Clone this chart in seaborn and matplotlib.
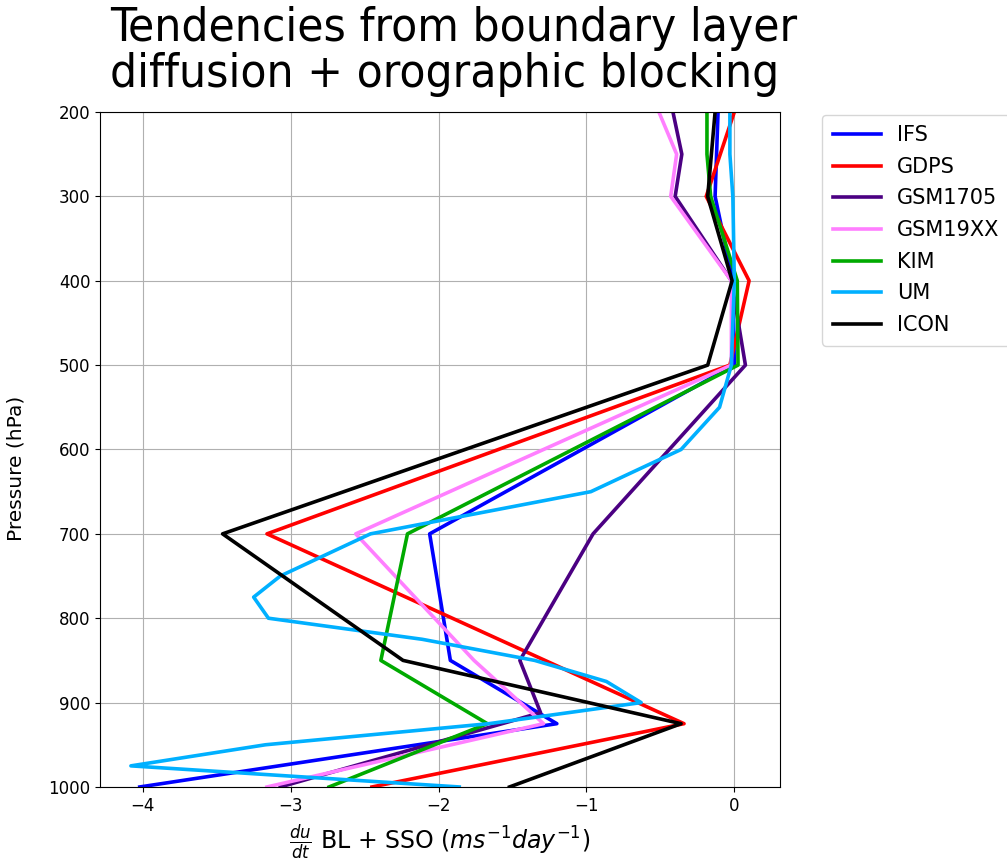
import numpy as np
import pandas as pd
import matplotlib
matplotlib.use("Agg")
import matplotlib.pyplot as plt
import seaborn as sns

# Zonal-wind tendency profiles (m s-1 day-1) from boundary-layer diffusion + SSO
models = ["IFS", "GDPS", "GSM1705", "GSM19XX", "KIM", "UM", "ICON"]

p_ifs = [200, 250, 300, 400, 500, 700, 850, 925, 1000]
u_ifs = [-0.11, -0.12, -0.13, -0.01, 0.0, -2.06, -1.92, -1.20, -4.02]

p_gdps = [200, 300, 400, 500, 700, 925, 1000]
u_gdps = [0.0, -0.19, 0.10, -0.03, -3.16, -0.34, -2.45]

p_gsm1705 = [200, 250, 300, 400, 500, 700, 850, 912, 1000]
u_gsm1705 = [-0.415, -0.355, -0.40, -0.02, 0.075, -0.955, -1.45, -1.31, -3.07]

p_gsm19xx = [200, 250, 300, 400, 500, 700, 850, 925, 1000]
u_gsm19xx = [-0.51, -0.39, -0.43, -0.02, -0.02, -2.56, -1.76, -1.29, -3.16]

p_kim = [200, 250, 300, 400, 500, 700, 850, 925, 1000]
u_kim = [-0.185, -0.185, -0.16, 0.02, 0.025, -2.21, -2.39, -1.67, -2.74]

p_um = [200, 250, 300, 400, 500, 550, 600, 650, 700, 750, 775, 800,
        825, 850, 875, 900, 925, 950, 975, 1000]
u_um = [-0.03, -0.03, -0.01, 0.0, -0.02, -0.10, -0.36, -0.97, -2.46, -3.07,
        -3.25, -3.15, -2.11, -1.35, -0.865, -0.63, -1.66, -3.17, -4.08, -1.86]

p_icon = [200, 250, 300, 400, 500, 700, 850, 925, 1000]
u_icon = [-0.13, -0.155, -0.18, -0.015, -0.18, -3.46, -2.24, -0.36, -1.52]

colors = ["#0000ff", "#ff0000", "#4b0082", "#ff7fff", "#00aa00", "#00b0ff", "#000000"]

profiles = {
    "IFS": (p_ifs, u_ifs),
    "GDPS": (p_gdps, u_gdps),
    "GSM1705": (p_gsm1705, u_gsm1705),
    "GSM19XX": (p_gsm19xx, u_gsm19xx),
    "KIM": (p_kim, u_kim),
    "UM": (p_um, u_um),
    "ICON": (p_icon, u_icon),
}

frames = []
for name in models:
    p, u = profiles[name]
    frames.append(pd.DataFrame({"model": name, "pressure": p, "dudt": u}))
df = pd.concat(frames, ignore_index=True)

fig = plt.figure(figsize=(10.07, 8.61), dpi=100)
ax = fig.add_axes([0.0993, 0.0860, 0.6753, 0.7839])

sns.lineplot(data=df, x="dudt", y="pressure", hue="model", hue_order=models,
             palette=colors, sort=False, orient="y", estimator=None,
             linewidth=2.6, ax=ax)

ax.set_ylim(1000, 200)
ax.set_yticks(np.arange(200, 1001, 100))
ax.grid(True, color="#b0b0b0", linewidth=0.8)
ax.set_axisbelow(True)
ax.tick_params(labelsize=12)
ax.set_ylabel("Pressure (hPa)", fontsize=14.5)
ax.yaxis.set_label_coords(-0.110, 0.4726)
ax.set_xlabel(r"$\frac{du}{dt}$ BL + SSO ($ms^{-1}day^{-1}$)", fontsize=17,
              labelpad=5.5)

ax.legend(loc="upper left", bbox_to_anchor=(1.062, 0.996), borderaxespad=0,
          fontsize=15, handlelength=2.3, labelspacing=0.56, borderpad=0.5,
          frameon=True)

fig.text(110 / 1007, 1 - 6 / 861,
         "Tendencies from boundary layer\ndiffusion + orographic blocking",
         ha="left", va="top", fontsize=34.2, fontstretch="condensed",
         family="DejaVu Sans", linespacing=1.02)

fig.savefig("out.png", dpi=100)
